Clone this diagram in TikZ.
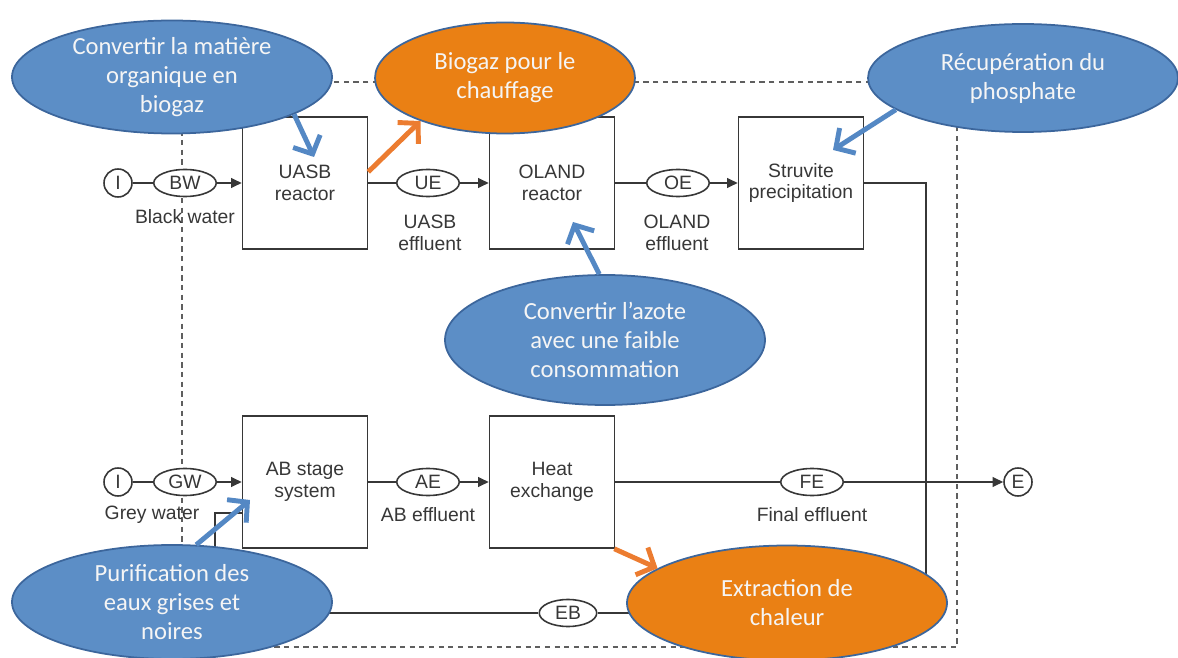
\documentclass[tikz,border=0pt]{standalone}
\usepackage{fontspec}
\usepackage{tikz}
\usetikzlibrary{shapes.geometric,arrows.meta}
\newfontfamily\diagfont{Liberation Sans}
\newfontfamily\bubfont{Carlito}
\definecolor{linegrey}{RGB}{55,55,55}
\definecolor{dashgrey}{RGB}{95,95,95}
\definecolor{bubblue}{RGB}{92,142,198}
\definecolor{bubedge}{RGB}{60,102,156}
\definecolor{bubor}{RGB}{234,128,20}
\definecolor{arrblue}{RGB}{84,136,196}
\definecolor{arror}{RGB}{236,124,48}
\definecolor{bubtext}{RGB}{245,245,245}

\begin{document}
\begin{tikzpicture}[x=0.2mm,y=-0.2mm,
    proc/.style={draw=linegrey,line width=0.9pt,minimum width=2.5cm,minimum height=2.64cm,
      align=center,text=linegrey,font=\diagfont\fontsize{11}{12.5}\selectfont},
    tag/.style={ellipse,draw=linegrey,fill=white,line width=0.9pt,minimum width=1.25cm,minimum height=0.54cm,
      inner sep=0pt,text=linegrey,font=\diagfont\fontsize{11}{12.5}\selectfont},
    term/.style={circle,draw=linegrey,fill=white,line width=0.9pt,minimum size=0.56cm,inner sep=0pt,
      text=linegrey,font=\diagfont\fontsize{11}{12.5}\selectfont},
    lbl/.style={align=center,text=linegrey,font=\diagfont\fontsize{11}{12.5}\selectfont},
    flow/.style={draw=linegrey,line width=0.9pt},
    flowarr/.style={flow,-{Triangle[length=6pt,width=5.5pt]}},
    bub/.style={ellipse,fill=bubblue,draw=bubedge,line width=1pt,inner sep=0pt,align=center,
      text=bubtext,font=\bubfont\fontsize{14}{16.5}\selectfont},
    barrow/.style={draw=arrblue,line width=2.8pt,-{Straight Barb[length=8pt,width=17pt]}},
    oarrow/.style={barrow,draw=arror}]
    \useasboundingbox (0,0) rectangle (1178,658);
    \draw[dashgrey,line width=1.1pt,dash pattern=on 3pt off 2.5pt] (182,82) rectangle (957,647);

    \node[proc] (uasb) at (305,183) {UASB\\reactor};
    \node[proc] (oland) at (552,183) {OLAND\\reactor};
    \node[proc] (struv) at (801,183) {Struvite\\precipitation};
    \node[proc] (abs) at (305,482) {AB stage\\system};
    \node[proc] (hex) at (552,482) {Heat\\exchange};

    \node[term] (inB) at (118,183) {I};
    \node[tag] (bw) at (185,183) {BW};
    \node[tag] (ue) at (428,183) {UE};
    \node[tag] (oe) at (678,183) {OE};
    \node[term] (inG) at (118,482) {I};
    \node[tag] (gw) at (185,482) {GW};
    \node[tag] (ae) at (428,482) {AE};
    \node[tag] (fe) at (812,482) {FE};
    \node[term] (outE) at (1018,482) {E};
    \node[tag,minimum width=1.15cm] (eb) at (568,613) {EB};

    \node[lbl] (bwl) at (185,217) {Black water};
    \node[lbl] (uel) at (430,233) {UASB\\effluent};
    \node[lbl] (oel) at (677,233) {OLAND\\effluent};
    \node[lbl] (gwl) at (152,515) {Grey water};
    \node[lbl] (ael) at (428,515) {AB effluent};
    \node[lbl] (fel) at (812,515) {Final effluent};

    \draw[flow] (inB) -- (bw);
    \draw[flowarr] (bw) -- (uasb);
    \draw[flow] (uasb) -- (ue);
    \draw[flowarr] (ue) -- (oland);
    \draw[flow] (oland) -- (oe);
    \draw[flowarr] (oe) -- (struv);
    \draw[flow] (inG) -- (gw);
    \draw[flowarr] (gw) -- (abs);
    \draw[flow] (abs) -- (ae);
    \draw[flowarr] (ae) -- (hex);
    \draw[flow] (hex) -- (fe);
    \draw[flowarr] (fe) -- (outE);

    \coordinate (rb) at (926,613);
    \coordinate (rl) at (215,613);
    \coordinate (ri) at (242.5,513);
    \draw[flow] (struv.east) -| (rb) -- (eb) -- (rl) |- (ri);

    \node[bub,minimum width=6.4cm,minimum height=2.26cm] (cOrg) at (172,77) {Convertir la matière\\organique en\\biogaz};
    \node[bub,fill=bubor,minimum width=5.2cm,minimum height=2.22cm] (cBio) at (505,78) {Biogaz pour le\\chauffage};
    \node[bub,minimum width=6.2cm,minimum height=2.16cm] (cPhos) at (1023,78) {Récupération du\\phosphate};
    \node[bub,minimum width=6.4cm,minimum height=2.6cm] (cAzo) at (605,340) {Convertir l’azote\\avec une faible\\consommation};
    \node[bub,minimum width=6.4cm,minimum height=2.28cm] (cPur) at (172,602) {Purification des\\eaux grises et\\noires};
    \node[bub,fill=bubor,minimum width=6.4cm,minimum height=2.3cm] (cHeat) at (787,603) {Extraction de\\chaleur};

    \coordinate (tOrg) at (314,157);
    \coordinate (tPhos) at (833,150);
    \coordinate (tAzo) at (573,222);
    \coordinate (tPur) at (250,500);
    \draw[barrow] (cOrg.-17) -- (tOrg);
    \draw[oarrow] (uasb.10) -- (cBio.-153);
    \draw[barrow] (cPhos.194) -- (tPhos);
    \draw[barrow] (cAzo.95) -- (tAzo);
    \draw[barrow] (cPur.67) -- (tPur);
    \draw[oarrow] (hex.-47) -- (cHeat.165);
\end{tikzpicture}
\end{document}
